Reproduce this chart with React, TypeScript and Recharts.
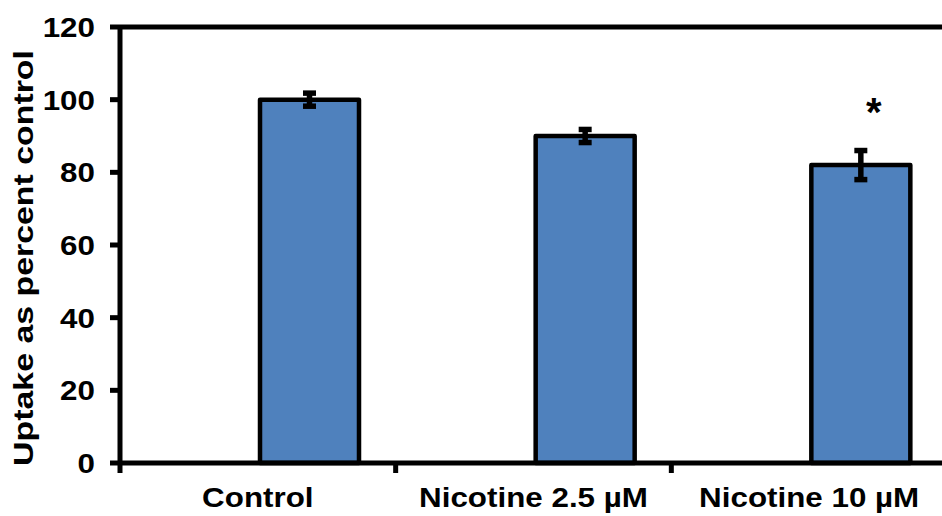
import {
  Bar,
  BarChart,
  ErrorBar,
  LabelList,
  ReferenceLine,
  XAxis,
  YAxis,
} from "recharts";

const categories = ["Control", "Nicotine 2.5 µM", "Nicotine 10 µM"];
const uptake = [100, 90, 82];
const uptakeErr = [1.8, 1.8, 4];
const significance = ["", "", "*"];
const yTicks = [0, 20, 40, 60, 80, 100, 120];

// the empty "blank" series keeps Excel's off-centre bar placement
const data = categories.map((name, i) => ({
  name,
  blank: 0,
  uptake: uptake[i],
  err: uptakeErr[i],
  sig: significance[i],
}));

const FONT = '"Liberation Sans", Arial, sans-serif';
const STRETCH = 1.12;
const BLUE = "#4F81BD";

function XTick(props: any) {
  const { x, y, payload } = props;
  const edge = x - (payload.offset ?? 0);
  return (
    <g>
      <line x1={edge} y1={y} x2={edge} y2={y + 10} stroke="#000" strokeWidth={5} />
      <text
        transform={`translate(${x},${y + 44}) scale(${STRETCH},1)`}
        textAnchor="middle"
        fontFamily={FONT}
        fontSize={28}
        fontWeight="bold"
        fill="#000"
      >
        {payload.value}
      </text>
    </g>
  );
}

function YTick(props: any) {
  const { x, y, payload } = props;
  return (
    <text
      transform={`translate(${x},${y}) scale(${STRETCH},1)`}
      textAnchor="end"
      dy="0.36em"
      fontFamily={FONT}
      fontSize={28}
      fontWeight="bold"
      fill="#000"
    >
      {payload.value}
    </text>
  );
}

function YTitle(props: any) {
  const vb = props.viewBox;
  const cx = vb.x + 33;
  const cy = vb.y + vb.height / 2 + 13;
  return (
    <text
      transform={`translate(${cx},${cy}) rotate(-90) scale(1.21,1)`}
      textAnchor="middle"
      fontFamily={FONT}
      fontSize={28}
      fontWeight="bold"
      fill="#000"
    >
      Uptake as percent control
    </text>
  );
}

function Star(props: any) {
  const { x, y, width, value } = props;
  if (!value) return null;
  return (
    <text
      x={Number(x) + Number(width) / 2 + 13}
      y={Number(y) - 39}
      textAnchor="middle"
      fontFamily={FONT}
      fontSize={40}
      fontWeight="bold"
      fill="#000"
    >
      {value}
    </text>
  );
}

export default function App() {
  return (
    <div
      style={{
        position: "fixed",
        top: 0,
        left: 0,
        width: 942,
        height: 516,
        overflow: "hidden",
        background: "#fff",
      }}
    >
      <BarChart
        width={947}
        height={516}
        data={data}
        margin={{ top: 27, right: 0, bottom: 0, left: 0 }}
        barSize={99}
        barGap={4}
      >
        <XAxis
          dataKey="name"
          height={53}
          tickLine={false}
          tickSize={0}
          tickMargin={0}
          axisLine={{ stroke: "#000", strokeWidth: 5 }}
          tick={<XTick />}
          interval={0}
        />
        <YAxis
          width={120}
          domain={[0, 120]}
          ticks={yTicks}
          interval={0}
          tickSize={10}
          tickMargin={15}
          tickLine={{ stroke: "#000", strokeWidth: 5 }}
          axisLine={{ stroke: "#000", strokeWidth: 5 }}
          tick={<YTick />}
          label={{ content: (p: any) => <YTitle {...p} /> }}
        />
        <ReferenceLine y={120} stroke="#000" strokeWidth={5} />
        <Bar dataKey="blank" fill="none" isAnimationActive={false} />
        <Bar
          dataKey="uptake"
          fill={BLUE}
          stroke="#000"
          strokeWidth={4.5}
          strokeLinejoin="round"
          isAnimationActive={false}
        >
          <ErrorBar dataKey="err" width={6.5} stroke="#000" strokeWidth={5.5} />
          <LabelList dataKey="sig" content={<Star />} />
        </Bar>
      </BarChart>
    </div>
  );
}
